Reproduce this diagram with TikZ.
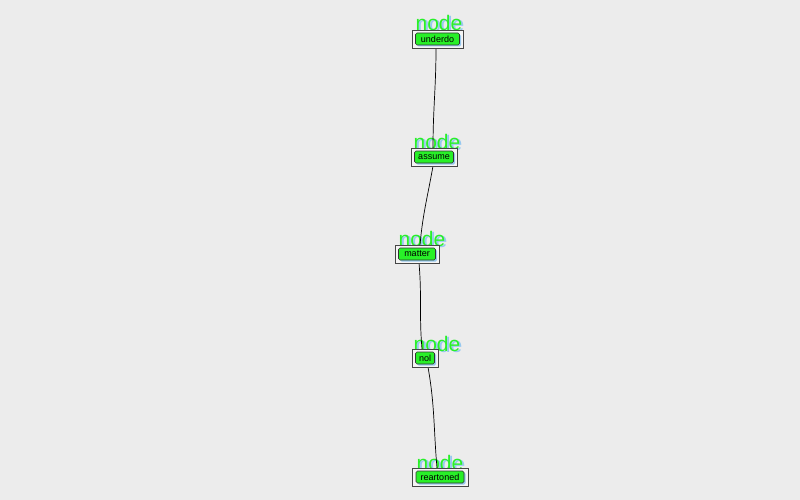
\documentclass[tikz,border=0pt]{standalone}
\usepackage{fontspec}
\setmainfont{Liberation Sans}
\definecolor{bgpaper}{RGB}{236,236,236}
\definecolor{ngreen}{RGB}{40,240,40}
\definecolor{nblue}{RGB}{150,200,240}
\definecolor{boxgray}{RGB}{70,70,70}
\tikzset{
  outerbox/.style={draw=boxgray, line width=0.9pt, fill=white!92!gray, minimum height=18pt, inner sep=0pt},
  innerbox/.style={draw=black!80, line width=0.6pt, fill=ngreen, rounded corners=1.5pt, minimum height=12pt, inner sep=1pt, font=\fontsize{9}{9}\selectfont, text=black},
  shadowbox/.style={fill=nblue, rounded corners=1.5pt, minimum height=12pt, inner sep=0pt},
  lbl/.style={text=ngreen, font=\fontsize{21}{21}\selectfont, inner sep=0pt},
  lblsh/.style={text=nblue, font=\fontsize{21}{21}\selectfont, inner sep=0pt},
  conn/.style={draw=black, line width=0.7pt}
}
\newcommand{\mkbox}[6]{%
  \node[outerbox, minimum width=#4pt] (#1) at (#2,-#3) {};
  \node[shadowbox, minimum width=#5pt] (#1s) at (#2+1.5,-#3-1.5) {};
  \node[innerbox, minimum width=#5pt] (#1i) at (#2,-#3) {#6};
}
\begin{document}
\begin{tikzpicture}[x=1pt,y=1pt]
\useasboundingbox (0,0) rectangle (800,-500);
\fill[bgpaper] (0,0) rectangle (800,-500);
% labels
\node[lblsh] (l1s) at (441,-23.5) {node};
\node[lbl] (l1) at (439,-22.5) {node};
\node[lblsh] (l2s) at (439,-142.5) {node};
\node[lbl] (l2) at (437,-141.5) {node};
\node[lblsh] (l3s) at (424,-239.5) {node};
\node[lbl] (l3) at (422,-238.5) {node};
\node[lblsh] (l4s) at (439,-344.5) {node};
\node[lbl] (l4) at (437,-343.5) {node};
\node[lblsh] (l5s) at (442,-463.5) {node};
\node[lbl] (l5) at (440,-462.5) {node};
% connectors
\draw[conn] (436,-48) coordinate (a1) to[out=-90,in=90] (433,-148) coordinate (b1);
\draw[conn] (433,-166) coordinate (a2) to[out=-100,in=85] (420,-245) coordinate (b2);
\draw[conn] (419,-263) coordinate (a3) to[out=-85,in=95] (422,-349) coordinate (b3);
\draw[conn] (428,-367) coordinate (a4) to[out=-80,in=95] (437,-468) coordinate (b4);
% boxes
\mkbox{n1}{437.5}{39}{51}{44}{underdo}
\mkbox{n2}{434}{157}{46}{39}{assume}
\mkbox{n3}{417}{254}{44}{37}{matter}
\mkbox{n4}{425}{358}{26}{19}{nol}
\mkbox{n5}{440}{477}{56}{48}{reartoned}
\end{tikzpicture}
\end{document}
